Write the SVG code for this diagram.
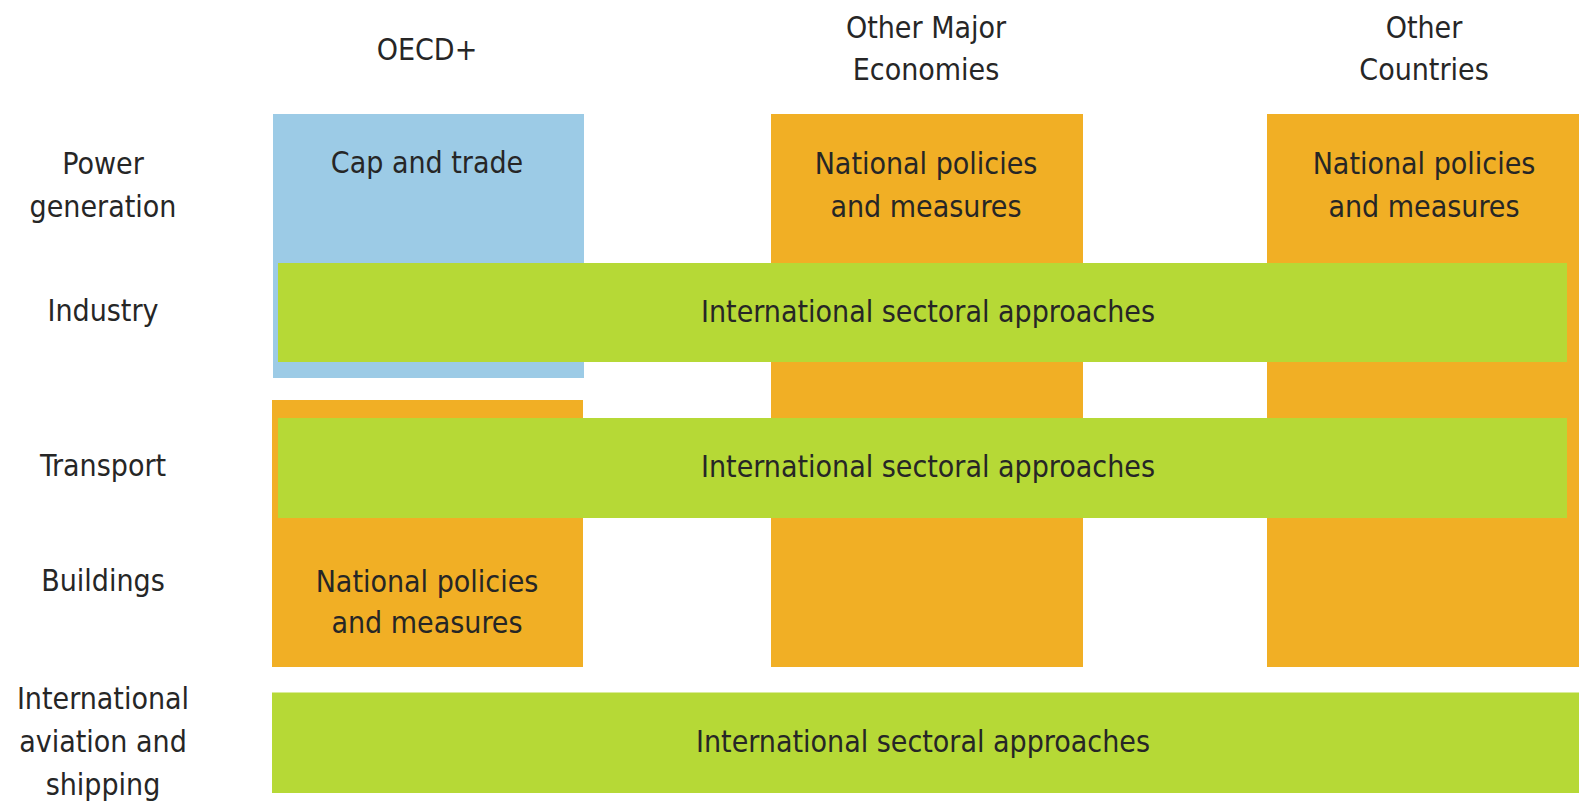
<svg xmlns="http://www.w3.org/2000/svg" width="1579" height="806" viewBox="0 0 1579 806">
<style>
text{font-family:"DejaVu Sans Condensed","DejaVu Sans",sans-serif;font-stretch:condensed;font-size:30px;fill:#262626;text-anchor:middle}
.blue{fill:#9ccbe6}
.orange{fill:#f1af25}
.green{fill:#b6d936}
</style>
<rect width="1579" height="806" fill="#ffffff"/>
<g id="headers">
<text x="427" y="60">OECD+</text>
<text x="926" y="38">Other Major</text>
<text x="926" y="80">Economies</text>
<text x="1424" y="38">Other</text>
<text x="1424" y="80">Countries</text>
</g>
<g id="row-labels">
<text x="103" y="174">Power</text>
<text x="103" y="217">generation</text>
<text x="103" y="321">Industry</text>
<text x="103" y="476">Transport</text>
<text x="103" y="591">Buildings</text>
<text x="103" y="709">International</text>
<text x="103" y="752">aviation and</text>
<text x="103" y="795">shipping</text>
</g>
<g id="cap-and-trade">
<rect class="blue" x="273" y="114" width="311" height="264"/>
<text x="427" y="173">Cap and trade</text>
</g>
<g id="oecd-national">
<rect class="orange" x="272" y="400" width="311" height="267"/>
<text x="427" y="592">National policies</text>
<text x="427" y="633">and measures</text>
</g>
<g id="ome-national">
<rect class="orange" x="771" y="114" width="312" height="553"/>
<text x="926" y="174">National policies</text>
<text x="926" y="217">and measures</text>
</g>
<g id="oc-national">
<rect class="orange" x="1267" y="114" width="312" height="553"/>
<text x="1424" y="174">National policies</text>
<text x="1424" y="217">and measures</text>
</g>
<g id="isa-industry">
<rect class="green" x="278" y="263" width="1289" height="99"/>
<text x="928" y="322">International sectoral approaches</text>
</g>
<g id="isa-transport">
<rect class="green" x="278" y="418" width="1289" height="100"/>
<text x="928" y="477">International sectoral approaches</text>
</g>
<g id="isa-aviation">
<rect class="green" x="272" y="692.5" width="1307" height="100.5"/>
<text x="923" y="752">International sectoral approaches</text>
</g>
<g id="connectors"></g>
</svg>
